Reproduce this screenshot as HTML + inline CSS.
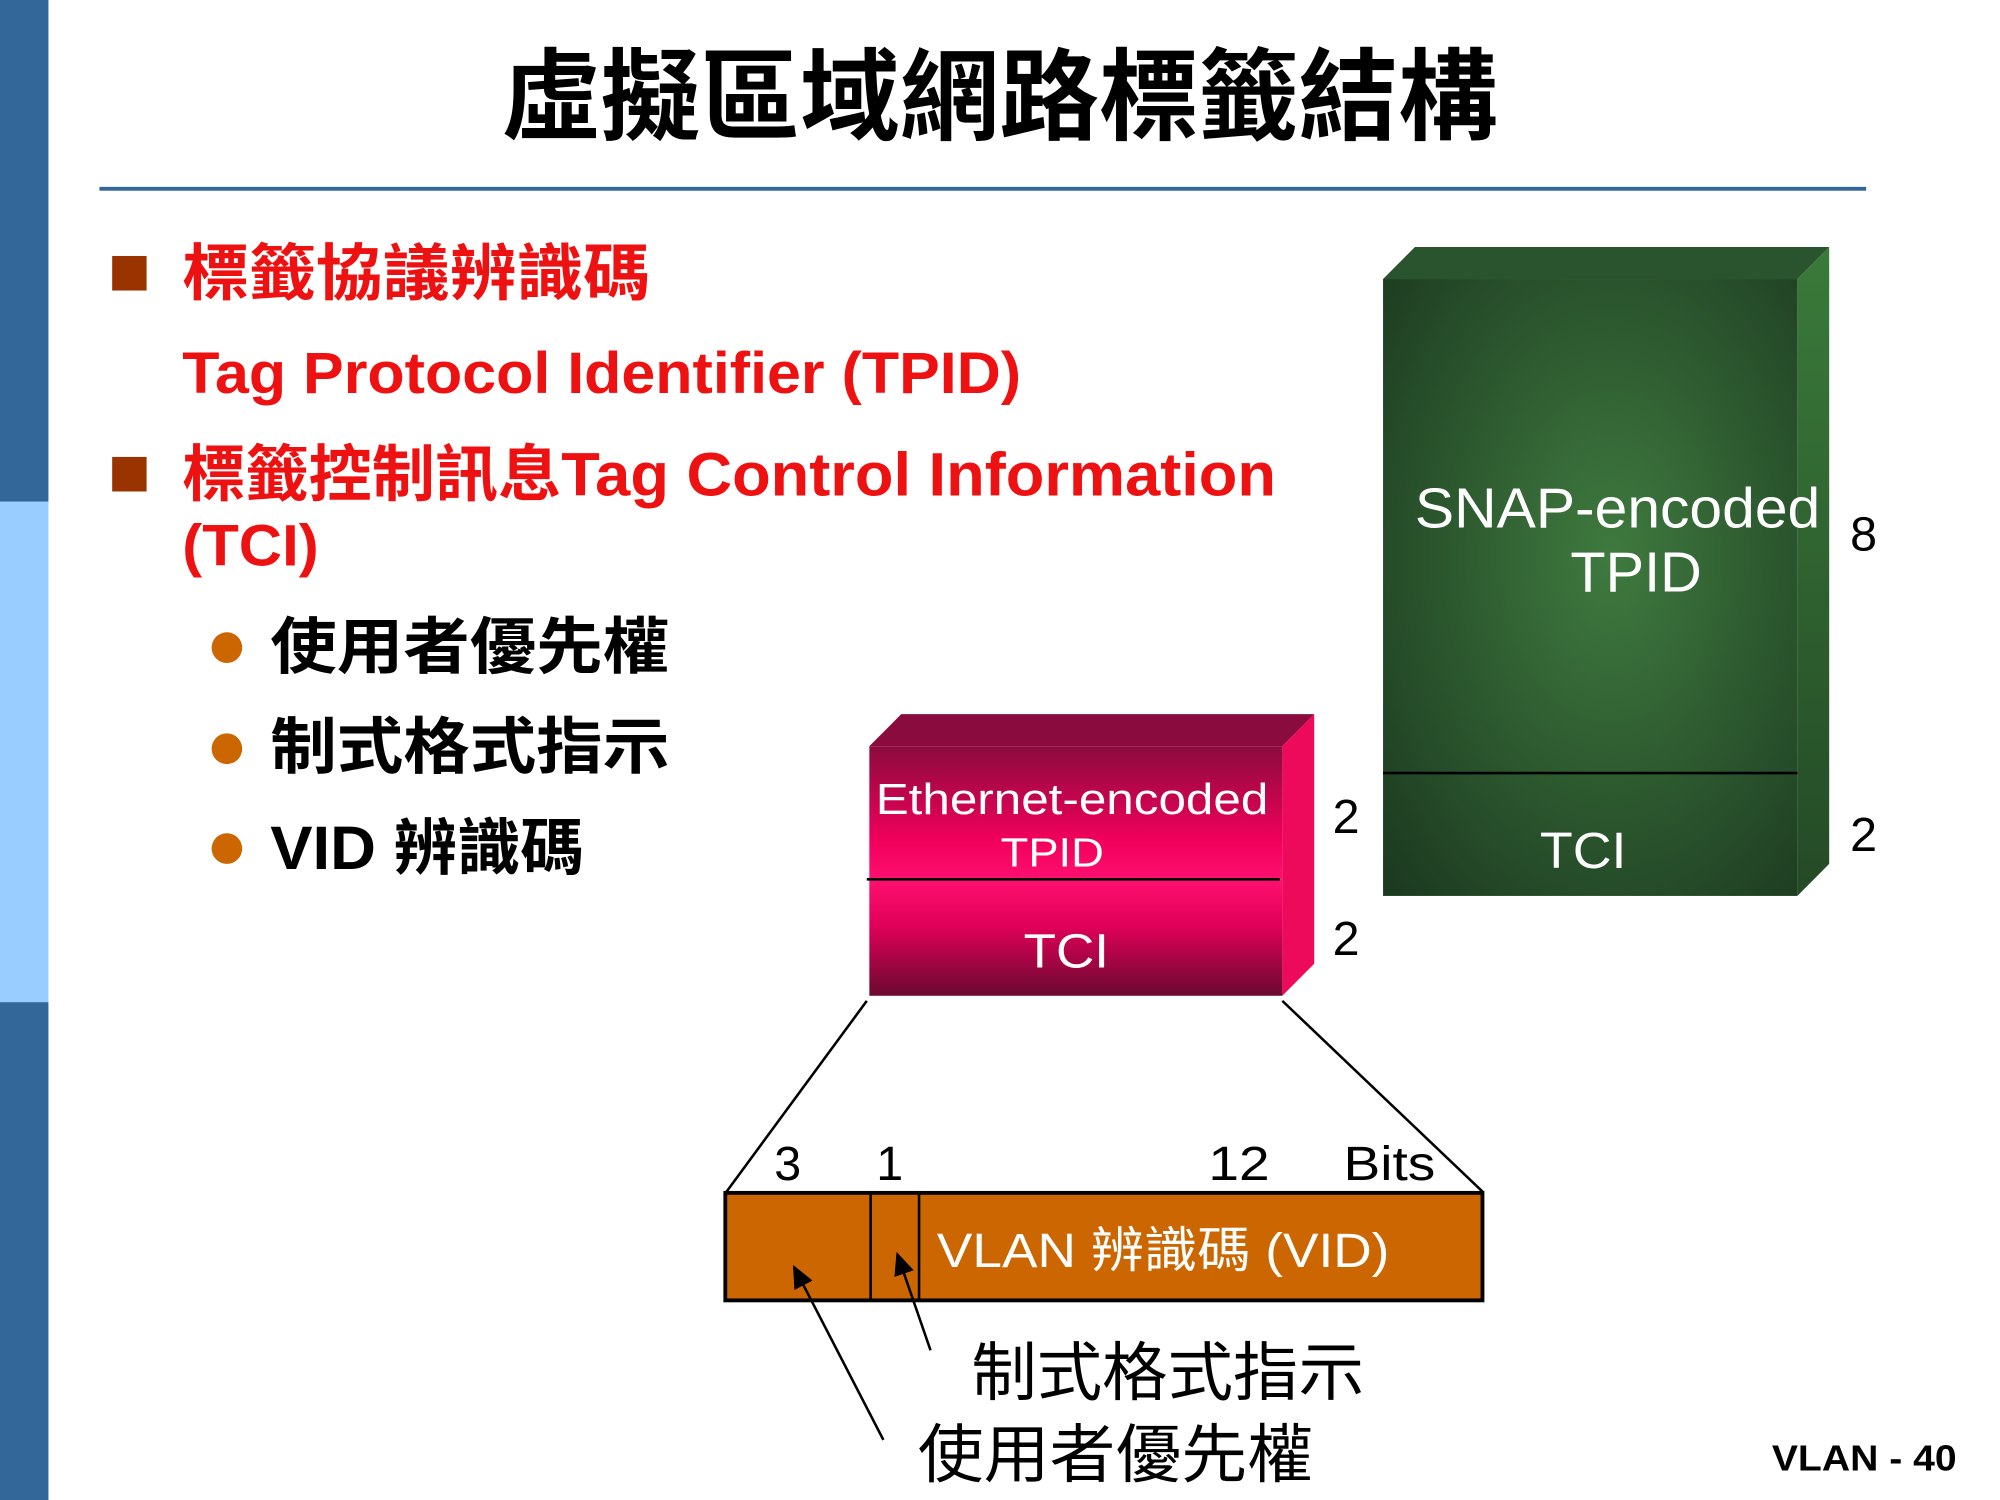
<!DOCTYPE html>
<html><head><meta charset="utf-8"><style>
html,body{margin:0;padding:0;background:#fff;overflow:hidden}
#w{width:1569px;height:1172px;transform:scale(1.2747,1.2799);transform-origin:0 0;position:relative}
svg{position:absolute;left:0;top:0}
text{font-family:"Liberation Sans","Noto Sans CJK TC",sans-serif}
</style></head><body><div id="w">
<svg width="1569" height="1172" viewBox="0 0 1569 1172">
<defs>
<radialGradient id="g" cx="0.55" cy="0.45" r="0.75"><stop offset="0" stop-color="#3f7a3f"/><stop offset="1" stop-color="#1c3a20"/></radialGradient>
<linearGradient id="gs" x1="0" y1="0" x2="0" y2="1"><stop offset="0" stop-color="#3a7a3a"/><stop offset="1" stop-color="#244a26"/></linearGradient>
<linearGradient id="p1" x1="0" y1="0" x2="0" y2="1"><stop offset="0" stop-color="#8a0b3e"/><stop offset="0.7" stop-color="#f0005a"/><stop offset="1" stop-color="#ff1070"/></linearGradient>
<linearGradient id="p2" x1="0" y1="0" x2="0" y2="1"><stop offset="0" stop-color="#ff1070"/><stop offset="0.4" stop-color="#e00058"/><stop offset="1" stop-color="#6a0a30"/></linearGradient>
<marker id="a" markerWidth="10" markerHeight="10" refX="8" refY="5" orient="auto"><path d="M0,1 L9,5 L0,9 Z" fill="#000"/></marker>
</defs>
<rect x="0" y="0" width="38" height="392" fill="#336699"/>
<rect x="0" y="392" width="38" height="391" fill="#99ccff"/>
<rect x="0" y="783" width="38" height="400" fill="#336699"/>
<text x="393" y="103" textLength="782" lengthAdjust="spacingAndGlyphs" font-size="78" font-weight="bold" fill="#000">虛擬區域網路標籤結構</text>
<rect x="78" y="146" width="1386" height="3" fill="#336699"/>
<rect x="88" y="200" width="27" height="27" fill="#993300"/>
<text x="143" y="230" textLength="367" lengthAdjust="spacingAndGlyphs" font-size="48" font-weight="bold" fill="#ee1111">標籤協議辨識碼</text>
<text x="143" y="307" textLength="658" lengthAdjust="spacingAndGlyphs" font-size="46" font-weight="bold" fill="#ee1111">Tag Protocol Identifier (TPID)</text>
<rect x="88" y="357" width="27" height="27" fill="#993300"/>
<text x="143" y="387" textLength="858" lengthAdjust="spacingAndGlyphs" font-size="48" font-weight="bold" fill="#ee1111">標籤控制訊息Tag Control Information</text>
<text x="143" y="442" textLength="107" lengthAdjust="spacingAndGlyphs" font-size="46" font-weight="bold" fill="#ee1111">(TCI)</text>
<circle cx="178" cy="506" r="12" fill="#cc6600"/>
<circle cx="178" cy="585" r="12" fill="#cc6600"/>
<circle cx="178" cy="663" r="12" fill="#cc6600"/>
<text x="212" y="522" textLength="313" lengthAdjust="spacingAndGlyphs" font-size="48" font-weight="bold" fill="#000">使用者優先權</text>
<text x="212" y="600" textLength="313" lengthAdjust="spacingAndGlyphs" font-size="48" font-weight="bold" fill="#000">制式格式指示</text>
<text x="212" y="679" textLength="246" lengthAdjust="spacingAndGlyphs" font-size="48" font-weight="bold" fill="#000">VID 辨識碼</text>
<!-- green box -->
<path d="M1085,218 L1110,193 L1435,193 L1410,218 Z" fill="#2a542d"/>
<path d="M1410,218 L1435,193 L1435,675 L1410,700 Z" fill="url(#gs)"/>
<rect x="1085" y="218" width="325" height="482" fill="url(#g)"/>
<line x1="1085" y1="604" x2="1410" y2="604" stroke="#000" stroke-width="2"/>
<text x="1110" y="412" textLength="318" lengthAdjust="spacingAndGlyphs" font-size="44" fill="#fff">SNAP-encoded</text>
<text x="1232" y="462" textLength="103" lengthAdjust="spacingAndGlyphs" font-size="44" fill="#fff">TPID</text>
<text x="1208" y="678" textLength="68" lengthAdjust="spacingAndGlyphs" font-size="40" fill="#fff">TCI</text>
<text x="1462" y="430" text-anchor="middle" font-size="38" fill="#000">8</text>
<text x="1462" y="665" text-anchor="middle" font-size="38" fill="#000">2</text>
<!-- pink box -->
<path d="M682,583 L707,558 L1031,558 L1006,583 Z" fill="#8a0b3e"/>
<path d="M1006,583 L1031,558 L1031,753 L1006,778 Z" fill="#ee0a5a"/>
<rect x="682" y="583" width="324" height="104" fill="url(#p1)"/>
<rect x="682" y="687" width="324" height="91" fill="url(#p2)"/>
<line x1="680" y1="687" x2="1004" y2="687" stroke="#000" stroke-width="2"/>
<text x="687" y="636" textLength="308" lengthAdjust="spacingAndGlyphs" font-size="34" fill="#fff">Ethernet-encoded</text>
<text x="785" y="677" textLength="81" lengthAdjust="spacingAndGlyphs" font-size="32" fill="#fff">TPID</text>
<text x="803" y="756" textLength="67" lengthAdjust="spacingAndGlyphs" font-size="38" fill="#fff">TCI</text>
<text x="1056" y="651" text-anchor="middle" font-size="38" fill="#000">2</text>
<text x="1056" y="746" text-anchor="middle" font-size="38" fill="#000">2</text>
<!-- expansion lines -->
<line x1="680" y1="782" x2="570" y2="931" stroke="#000" stroke-width="2"/>
<line x1="1006" y1="782" x2="1163" y2="931" stroke="#000" stroke-width="2"/>
<rect x="569" y="932" width="594" height="84" fill="#cc6600" stroke="#000" stroke-width="3"/>
<line x1="683" y1="932" x2="683" y2="1016" stroke="#000" stroke-width="2"/>
<line x1="721" y1="932" x2="721" y2="1016" stroke="#000" stroke-width="2"/>
<text x="735" y="990" textLength="355" lengthAdjust="spacingAndGlyphs" font-size="38" fill="#fff">VLAN 辨識碼 (VID)</text>
<text x="618" y="922" text-anchor="middle" font-size="38" fill="#000">3</text>
<text x="698" y="922" text-anchor="middle" font-size="38" fill="#000">1</text>
<text x="948" y="922" textLength="48" lengthAdjust="spacingAndGlyphs" font-size="38" fill="#000">12</text>
<text x="1054" y="922" textLength="72" lengthAdjust="spacingAndGlyphs" font-size="38" fill="#000">Bits</text>
<line x1="693" y1="1125" x2="623" y2="990" stroke="#000" stroke-width="2" marker-end="url(#a)"/>
<line x1="730" y1="1055" x2="704" y2="980" stroke="#000" stroke-width="2" marker-end="url(#a)"/>
<text x="762" y="1090" textLength="308" lengthAdjust="spacingAndGlyphs" font-size="50" fill="#000">制式格式指示</text>
<text x="720" y="1154" textLength="310" lengthAdjust="spacingAndGlyphs" font-size="50" fill="#000">使用者優先權</text>
<text x="1390" y="1149" textLength="145" lengthAdjust="spacingAndGlyphs" font-size="28" font-weight="bold" fill="#000">VLAN - 40</text>
</svg></div></body></html>
